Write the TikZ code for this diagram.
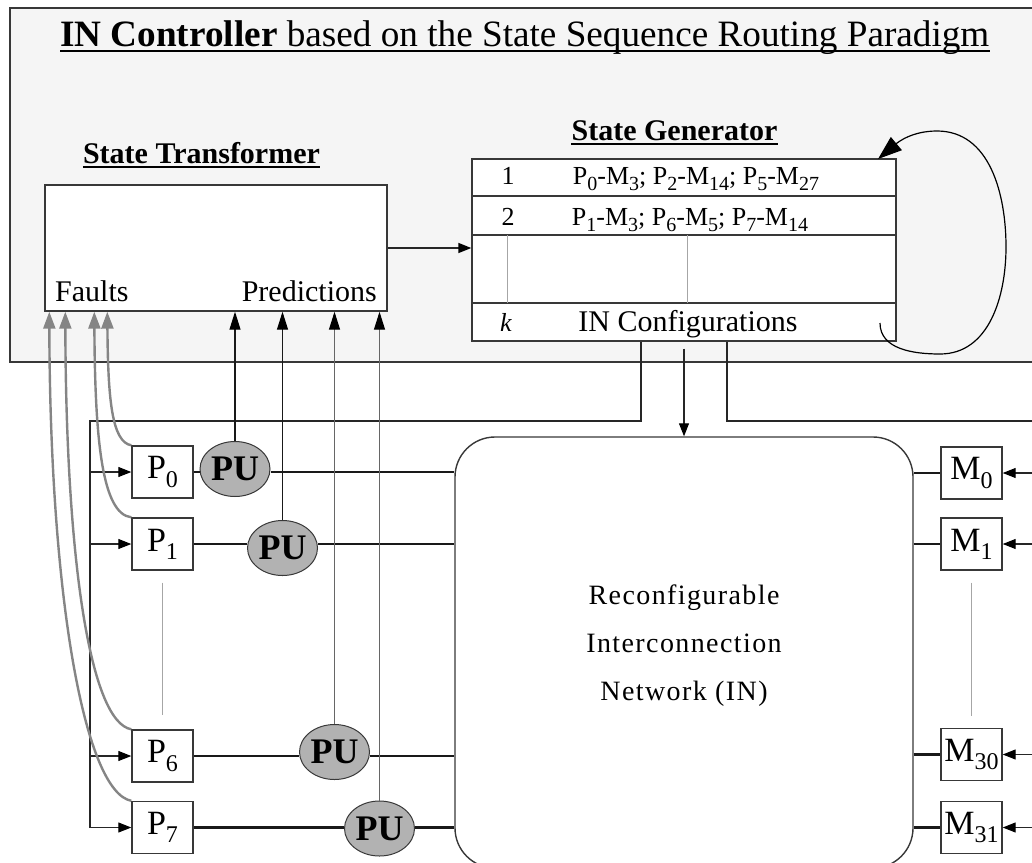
\documentclass[tikz,border=0pt]{standalone}
\usepackage{fontspec}
\setmainfont{Liberation Serif}
\usepackage{tikz}
\usetikzlibrary{arrows.meta,shapes.geometric}
\newcommand{\corFundo}{black!4}
\newcommand{\corBorda}{black!78}
\newcommand{\corPU}{black!30}
\newcommand{\corFalha}{black!48}
\newcommand{\corGuia}{black!35}
\newcommand{\fsTitulo}{\fontsize{37.2}{44}\selectfont}
\newcommand{\fsRotulo}{\fontsize{30}{36}\selectfont\bfseries}
\newcommand{\fsTexto}{\fontsize{30}{36}\selectfont}
\newcommand{\fsTabela}{\fontsize{26}{30}\selectfont}
\newcommand{\fsCaixa}{\fontsize{34}{40}\selectfont}
\newcommand{\fsRede}{\fontsize{28}{48}\selectfont\addfontfeature{LetterSpace=5}}
% indice (tamanho, texto)
\newcommand{\ix}[2][20]{\raisebox{-0.24em}{\fontsize{#1}{#1}\selectfont #2}}

\tikzset{
  caixa/.style={draw=\corBorda, fill=white, line width=1.4pt, inner sep=0pt},
  pbox/.style={caixa, minimum width=61pt, minimum height=52pt, font=\fsCaixa},
  pu/.style={ellipse, draw=\corBorda, fill=\corPU, line width=1pt, minimum width=70pt,
    minimum height=55pt, inner sep=0pt, font=\fontsize{36}{40}\selectfont\bfseries},
  texto/.style={inner sep=0pt, font=\fsTexto},
  tabela/.style={inner sep=0pt, font=\fsTabela},
  fio/.style={line width=1.1pt, draw=black!85},
  grosso/.style={line width=2.6pt, draw=black!90},
  seta/.style={fio, -{Triangle[length=13pt,width=10pt,black]}},
  seta cima/.style={line width=1.1pt, -{Triangle[length=18pt,width=11pt,black]}},
  falha/.style={draw=\corFalha, line width=2.4pt, -{Triangle[length=17pt,width=12pt]}},
  guia/.style={draw=\corGuia, line width=1pt},
  laco/.style={line width=1.2pt, -{Triangle[length=24pt,width=17pt]}}
}

\begin{document}
\begin{tikzpicture}[x=1pt,y=-1pt]
\useasboundingbox (0,0) rectangle (1032,862);
\clip (0,0) rectangle (1032,862);

% controlador
\draw[fill=\corFundo, draw=\corBorda, line width=1.4pt] (10,8) rectangle (1060,362);

\node[anchor=base west, inner sep=0pt, font=\fsTitulo] (titulo) at (60,46.7)
  {\textbf{IN Controller} based on the State Sequence Routing Paradigm};
\draw[line width=1.8pt] ([yshift=-4pt]titulo.base west) -- ([yshift=-4pt]titulo.base east);

% transformador
\node[caixa, minimum width=342pt, minimum height=126pt] (st) at (216,248) {};
\node[inner sep=0pt, font=\fsRotulo, anchor=base] (stnome) at (201.5,163) {State Transformer};
\draw[line width=1.5pt] ([yshift=-4pt]stnome.base west) -- ([yshift=-4pt]stnome.base east);
\node[texto, anchor=base west] (faults) at (55,301) {Faults};
\node[texto, anchor=base east] (predictions) at (377,301) {Predictions};

% gerador
\node[caixa, minimum width=424pt, minimum height=182pt] (sg) at (684,250) {};
\node[inner sep=0pt, font=\fsRotulo, anchor=base] (sgnome) at (674.5,140) {State Generator};
\draw[line width=1.5pt] ([yshift=-4pt]sgnome.base west) -- ([yshift=-4pt]sgnome.base east);
\foreach \l in {196,235,303}
  \draw[line width=1.3pt, draw=\corBorda] (sg.west |- 0,\l) -- (sg.east |- 0,\l);
\draw[guia] (507,235) -- (507,303);
\draw[guia] (687,235) -- (687,303);

\node[tabela, anchor=base] (r1n) at (508,184) {1};
\node[tabela, anchor=base] (r1t) at (696,184)
  {P\ix{0}-M\ix{3}; P\ix{2}-M\ix{14}; P\ix{5}-M\ix{27}};
\node[tabela, anchor=base] (r2n) at (508,225) {2};
\node[tabela, anchor=base] (r2t) at (690,225)
  {P\ix{1}-M\ix{3}; P\ix{6}-M\ix{5}; P\ix{7}-M\ix{14}};
\node[tabela, anchor=base] (rkn) at (506,331) {\textit{k}};
\node[texto, anchor=base] (rkt) at (688,331) {IN Configurations};

\draw[seta, line width=1.6pt] (st.east) -- (st.east -| sg.west);

% laco
\coordinate (laco0) at (880,323);
\coordinate (laco1) at (878,159);
\draw[laco] (laco0) to[out=-90,in=180] (940,354) to[out=0,in=-90] (1006,247)
  to[out=90,in=0] (937,131) to[out=180,in=40] (laco1);

% rede
\node[caixa, rounded corners=40pt, minimum width=458pt, minimum height=431pt] (rede) at (684,652.5) {};
\node[align=center, inner sep=0pt, font=\fsRede] (redenome) at (684,646)
  {Reconfigurable\\Interconnection\\Network (IN)};

% barramentos
\coordinate (barraE) at (641,421);
\coordinate (barraP) at (90,421);
\coordinate (barraPfim) at (90,828);
\coordinate (barraD) at (727,421);
\coordinate (barraM) at (1060,421);
\draw[fio] (barraE |- sg.south) -- (barraE) -- (barraP) -- (barraPfim);
\draw[fio] (barraD |- sg.south) -- (barraD) -- (barraM);
\draw[seta] ([yshift=-7pt]sg.south) -- (rede.north);

% processadores
\node[pbox] (p0) at (162.5,472) {P\ix[24]{0}};
\node[pbox] (p1) at (162.5,544) {P\ix[24]{1}};
\node[pbox] (p6) at (162.5,756) {P\ix[24]{6}};
\node[pbox] (p7) at (162.5,827.5) {P\ix[24]{7}};
\draw[guia] ([yshift=-12pt]p1.south) -- ([yshift=14pt]p6.north);

% memorias
\node[pbox] (m0) at (971.5,473) {M\ix[24]{0}};
\node[pbox] (m1) at (971.5,544) {M\ix[24]{1}};
\node[pbox] (m30) at (971.5,754.5) {M\ix[24]{30}};
\node[pbox] (m31) at (971.5,827.5) {M\ix[24]{31}};
\draw[guia] ([yshift=-12pt]m1.south) -- ([yshift=12pt]m30.north);

% PU
\node[pu] (pu0) at (235,469) {PU};
\node[pu] (pu1) at (282.5,548) {PU};
\node[pu] (pu6) at (334.5,752) {PU};
\node[pu] (pu7) at (379.5,828.5) {PU};

\foreach \p in {p0,p1,p6,p7}
  \draw[seta] (barraP |- \p.west) -- (\p.west);
\foreach \m in {m0,m1,m30,m31} {
  \draw[seta] (barraM |- \m.east) -- (\m.east);
  \draw[grosso] (rede.east |- \m.west) -- (\m.west);
}
\foreach \p/\u in {p0/pu0,p1/pu1,p6/pu6,p7/pu7} {
  \draw[grosso] (\p.east) -- (\p.east -| \u.west);
  \draw[grosso] (\p.east -| \u.east) -- (\p.east -| rede.west);
}
\foreach \u/\c in {pu0/black!90,pu1/black!90,pu6/black!60,pu7/black!60}
  \draw[seta cima, draw=\c] (\u.north) -- (\u.north |- st.south);

% falhas
\coordinate (falha0) at ([xshift=63pt]st.south west);
\coordinate (falha1) at ([xshift=50pt]st.south west);
\coordinate (falha6) at ([xshift=21pt]st.south west);
\coordinate (falha7) at ([xshift=5pt]st.south west);
\draw[falha] (p0.north west) .. controls (112,442) and (108,400) .. (falha0);
\draw[falha] (p1.north west) .. controls (102,514) and (95,440) .. (falha1);
\draw[falha] (p6.north west) .. controls (90,722) and (66,560) .. (falha6);
\draw[falha] (p7.north west) .. controls (85,792) and (50,600) .. (falha7);
\end{tikzpicture}
\end{document}
